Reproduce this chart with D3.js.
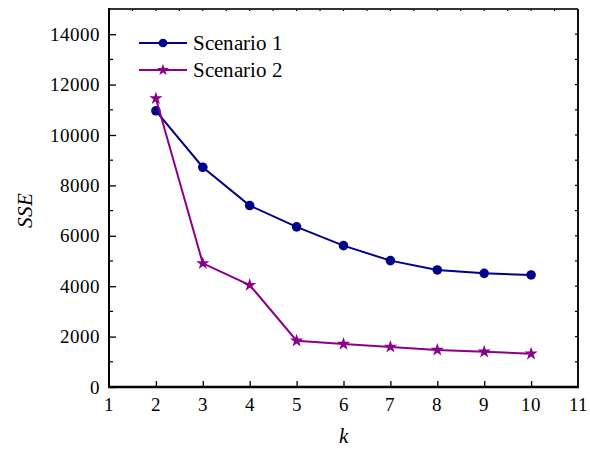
<!DOCTYPE html>
<html>
<head>
<meta charset="utf-8">
<script src="https://cdn.jsdelivr.net/npm/d3@7"></script>
<style>
  @font-face { font-family: "ChartSerif"; font-style: normal; font-weight: 400;
    src: local("Liberation Serif"), local("LiberationSerif"), local("Times New Roman"), local("Tinos"); }
  @font-face { font-family: "ChartSerif"; font-style: italic; font-weight: 400;
    src: local("Liberation Serif Italic"), local("LiberationSerif-Italic"), local("Times New Roman Italic"), local("Tinos Italic"); }
</style>
</head>
<body style="margin:0; background:#fff">
<svg id="chart" width="590" height="449" style="display:block" font-family="Liberation Serif"></svg>
<script>
// Elbow curve: sum of squared errors against the number of clusters k
const kValues = [2, 3, 4, 5, 6, 7, 8, 9, 10];
const scenario1 = [10960, 8720, 7200, 6355, 5610, 5015, 4645, 4510, 4445];
const scenario2 = [11450, 4905, 4045, 1835, 1705, 1590, 1470, 1400, 1320];
const seriesNames = ["Scenario 1", "Scenario 2"];
const xTicks = [1, 2, 3, 4, 5, 6, 7, 8, 9, 10, 11];
const yTicks = [0, 2000, 4000, 6000, 8000, 10000, 12000, 14000];

const FONT = "ChartSerif, 'Liberation Serif', 'Times New Roman', Tinos";
const svg = d3.select("#chart");
const plotL = 109, plotR = 578, plotT = 9, plotB = 387;

const x = d3.scaleLinear().domain([1, 11]).range([plotL, plotR]);
const y = d3.scaleLinear().domain([0, 15000]).range([plotB, plotT]);

const colors = ["#00008b", "#8b008b"];
const series = [scenario1, scenario2];

function serif(sel, size, italic) {
  return sel.attr("font-family", "Liberation Serif")
    .style("font-family", FONT)
    .style("font-size", size + "px")
    .style("font-style", italic ? "italic" : "normal")
    .attr("fill", "#000");
}

// Minor ticks
const yMinor = d3.range(1000, 15000, 2000);
const topTicks = d3.range(1.5, 11, 0.5);
const rightTicks = d3.range(1000, 15000, 1000);

const g = svg.append("g");

// left minor ticks
g.selectAll(".ylm").data(yMinor).join("line")
  .attr("x1", plotL).attr("x2", plotL + 4)
  .attr("y1", d => y(d)).attr("y2", d => y(d))
  .attr("stroke", "#000").attr("stroke-width", 1.2);
// right ticks
g.selectAll(".yr").data(rightTicks).join("line")
  .attr("x1", plotR).attr("x2", plotR - 3)
  .attr("y1", d => y(d)).attr("y2", d => y(d))
  .attr("stroke", "#000").attr("stroke-width", 1.2);
// top ticks
g.selectAll(".xt").data(topTicks).join("line")
  .attr("x1", d => x(d)).attr("x2", d => x(d))
  .attr("y1", plotT).attr("y2", plotT + 2)
  .attr("stroke", "#000").attr("stroke-width", 1.2);

// Inward major ticks from the axis generators; labels drawn from the same scales
const yAxis = d3.axisLeft(y).tickValues(yTicks).tickSize(-7).tickFormat("");
const ya = svg.append("g").attr("transform", `translate(${plotL},0)`).call(yAxis);
ya.select(".domain").remove();
ya.selectAll(".tick line").attr("stroke", "#000").attr("stroke-width", 1.3);
serif(svg.selectAll(".ylab").data(yTicks).join("text")
  .attr("x", plotL - 9).attr("y", d => y(d) + 6.5)
  .attr("text-anchor", "end"), 19).text(d => d);

const xAxis = d3.axisBottom(x).tickValues(xTicks).tickSize(-6).tickFormat("");
const xa = svg.append("g").attr("transform", `translate(0,${plotB})`).call(xAxis);
xa.select(".domain").remove();
xa.selectAll(".tick line").attr("stroke", "#000").attr("stroke-width", 1.3);
xa.selectAll(".tick").filter(d => d === 1 || d === 11).select("line").remove();
serif(svg.selectAll(".xlab").data(xTicks).join("text")
  .attr("x", d => x(d)).attr("y", plotB + 24)
  .attr("text-anchor", "middle"), 19).text(d => d);

// Frame
svg.append("line").attr("x1", plotL).attr("x2", plotR).attr("y1", plotT).attr("y2", plotT)
  .attr("stroke", "#333").attr("stroke-width", 2);
svg.append("line").attr("x1", plotR).attr("x2", plotR).attr("y1", plotT).attr("y2", plotB)
  .attr("stroke", "#111").attr("stroke-width", 2);
svg.append("line").attr("x1", plotL).attr("x2", plotL).attr("y1", plotT - 1).attr("y2", plotB + 1)
  .attr("stroke", "#000").attr("stroke-width", 2);
svg.append("line").attr("x1", plotL - 1).attr("x2", plotR + 1).attr("y1", plotB).attr("y2", plotB)
  .attr("stroke", "#000").attr("stroke-width", 2.5);

// Series lines and markers
const line = d3.line().x((d, i) => x(kValues[i])).y(d => y(d));
const star = d3.symbol().type(d3.symbolStar).size(55);
const dot = d3.symbol().type(d3.symbolCircle).size(72);

series.forEach((vals, si) => {
  svg.append("path").datum(vals).attr("d", line)
    .attr("fill", "none").attr("stroke", colors[si]).attr("stroke-width", 2);
  svg.selectAll(".m" + si).data(vals).join("path")
    .attr("transform", (d, i) => `translate(${x(kValues[i])},${y(d)})`)
    .attr("d", si === 0 ? dot : star)
    .attr("fill", colors[si]);
});

// Legend
const legendRows = [43, 70];
seriesNames.forEach((name, si) => {
  const ly = legendRows[si];
  svg.append("line").attr("x1", 139).attr("x2", 187).attr("y1", ly).attr("y2", ly)
    .attr("stroke", colors[si]).attr("stroke-width", 2);
  svg.append("path").attr("transform", `translate(163,${ly})`)
    .attr("d", si === 0 ? d3.symbol().type(d3.symbolCircle).size(60)() : d3.symbol().type(d3.symbolStar).size(45)())
    .attr("fill", colors[si]);
  serif(svg.append("text").attr("x", 193).attr("y", ly + 7), 21).text(name);
});

// Axis titles
serif(svg.append("text").attr("transform", "translate(32,210) rotate(-90)")
  .attr("text-anchor", "middle"), 21, true).text("SSE");
serif(svg.append("text").attr("x", x(6)).attr("y", 443)
  .attr("text-anchor", "middle"), 21, true).text("k");
</script>
</body>
</html>
